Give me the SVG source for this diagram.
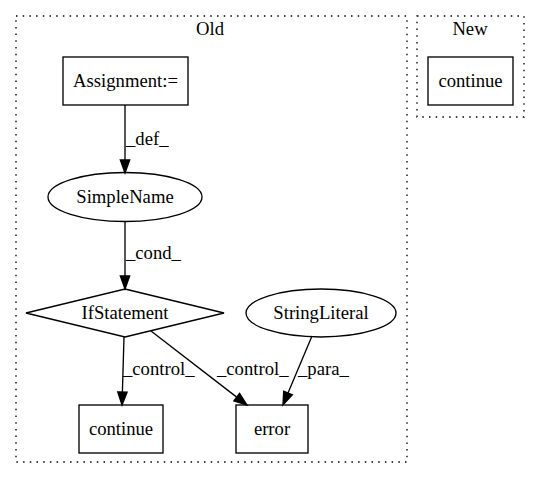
<svg xmlns="http://www.w3.org/2000/svg" width="540" height="480" viewBox="0 0 540 480">
<style>
text{font-size:18.67px;fill:#000}
.n{text-anchor:middle}
.shape{fill:none;stroke:#000;stroke-width:1.33}
.cluster{fill:none;stroke:#000;stroke-width:1.33;stroke-dasharray:1.5,5.2}
.edge{fill:none;stroke:#000;stroke-width:1.33}
</style>
<defs>
<marker id="arr" markerUnits="userSpaceOnUse" markerWidth="14" markerHeight="10" refX="0" refY="4.67" orient="auto" overflow="visible">
<path d="M0,0 L13,4.67 L0,9.33 z" fill="#000" stroke="#000" stroke-width="1.33"/>
</marker>
</defs>
<rect width="540" height="480" fill="#fff"/>
<g font-family="Liberation Serif, DejaVu Serif, serif">
<g id="cluster_old">
<rect class="cluster" x="16" y="16" width="391" height="446"/>
<text class="n" x="210" y="35">Old</text>
</g>
<g id="cluster_new">
<rect class="cluster" x="417" y="16" width="107" height="101"/>
<text class="n" x="470" y="35">New</text>
</g>
<g id="connectors">
<path class="edge" d="M125,105 L125,160" marker-end="url(#arr)"/>
<text x="126" y="145">_def_</text>
<path class="edge" d="M125,222 L125,276" marker-end="url(#arr)"/>
<text x="126" y="259">_cond_</text>
<path class="edge" d="M124,337 L122.4,392" marker-end="url(#arr)"/>
<text x="123" y="375">_control_</text>
<path class="edge" d="M151,331 L236.7,397.1" marker-end="url(#arr)"/>
<text x="217" y="375">_control_</text>
<path class="edge" d="M312,336 L288,393" marker-end="url(#arr)"/>
<text x="298" y="375">_para_</text>
</g>
<g id="assignment">
<rect class="shape" x="63" y="57" width="125" height="48"/>
<text class="n" x="125.5" y="87">Assignment:=</text>
</g>
<g id="simplename">
<ellipse class="shape" cx="125" cy="197" rx="77" ry="24.5"/>
<text class="n" x="125" y="202.5">SimpleName</text>
</g>
<g id="ifstatement">
<polygon class="shape" points="125,289 224,313 125,337 26,313"/>
<text class="n" x="125" y="318.5">IfStatement</text>
</g>
<g id="stringliteral">
<ellipse class="shape" cx="321" cy="313" rx="75" ry="24"/>
<text class="n" x="321" y="318.5">StringLiteral</text>
</g>
<g id="continue_old">
<rect class="shape" x="79" y="405" width="84" height="48"/>
<text class="n" x="121" y="434.5">continue</text>
</g>
<g id="error">
<rect class="shape" x="236" y="405" width="72" height="48"/>
<text class="n" x="272" y="434.5">error</text>
</g>
<g id="continue_new">
<rect class="shape" x="428" y="57" width="85" height="48"/>
<text class="n" x="470.5" y="86.5">continue</text>
</g>
</g>
</svg>
